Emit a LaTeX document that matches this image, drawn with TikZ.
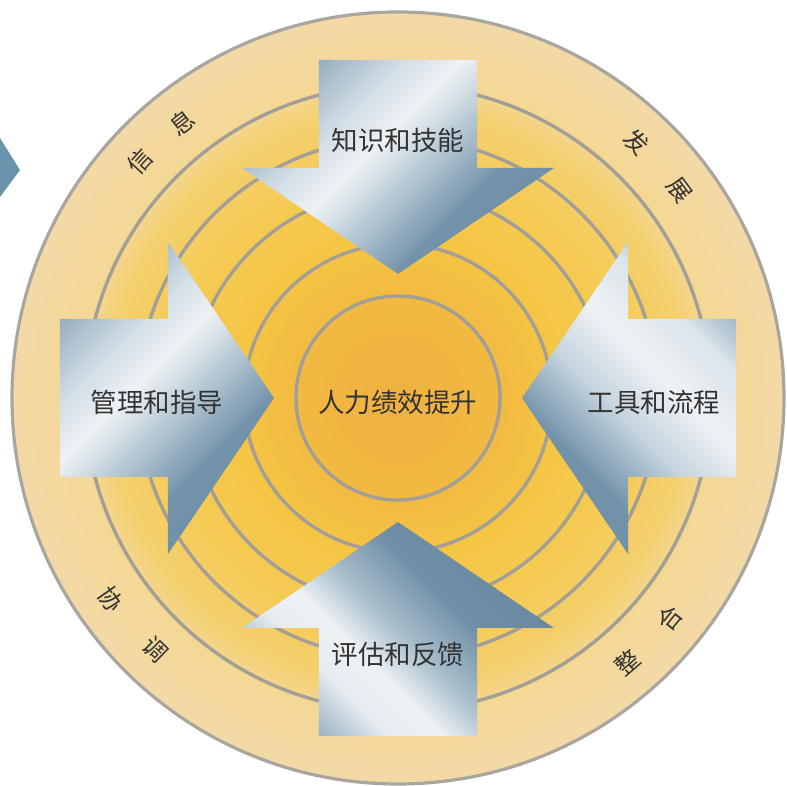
\documentclass[tikz,border=0pt]{standalone}
\usepackage{fontspec}
\setmainfont{Noto Sans CJK SC}
\definecolor{txt}{HTML}{333333}
\definecolor{ringc}{HTML}{A39F97}
\definecolor{rimc}{HTML}{A9A59F}
\definecolor{chev}{HTML}{6A92AB}
% custom colours for stops
\definecolor{b0}{HTML}{EFB040}
\definecolor{b1}{HTML}{F2BA42}
\definecolor{b2}{HTML}{F5C544}
\definecolor{b3}{HTML}{F5CB55}
\definecolor{b4}{HTML}{F4D070}
\definecolor{b5}{HTML}{F4D896}
\definecolor{b6}{HTML}{F3D9A6}
\pgfdeclareradialshading{bgrad}{\pgfpoint{0bp}{0bp}}{%
 color(0bp)=(b0); color(6.6bp)=(b1); color(10.4bp)=(b2); color(14.9bp)=(b3);
 color(18.8bp)=(b4); color(20.7bp)=(b5); color(25bp)=(b6); color(50bp)=(b6)}
% metal colours
\definecolor{mA}{HTML}{7896AC}
\definecolor{mB}{HTML}{8DA7BA}
\definecolor{mC}{HTML}{D0DCE4}
\definecolor{mW}{HTML}{EEF2F5}
\definecolor{mD}{HTML}{B5C7D3}
\definecolor{mE}{HTML}{7393AA}
\definecolor{mF}{HTML}{6A8AA1}
\definecolor{mG}{HTML}{E6ECF0}
\definecolor{mH}{HTML}{A8BDCB}
\definecolor{mI}{HTML}{6F8FA7}
\definecolor{mJ}{HTML}{7E9AAF}
\definecolor{mK}{HTML}{C5D4DE}
\definecolor{mL}{HTML}{DCE5EB}
\definecolor{mM}{HTML}{94ADBE}
% pos = 14.6 + 70.8 t
\pgfdeclarehorizontalshading{metalTL}{100bp}{%
 color(0bp)=(mA); color(14.6bp)=(mA); color(23.1bp)=(mB); color(35.8bp)=(mC);
 color(44.3bp)=(mW); color(53.5bp)=(mD); color(64.2bp)=(mE); color(85.4bp)=(mF); color(100bp)=(mF)}
\pgfdeclarehorizontalshading{metalB}{100bp}{%
 color(0bp)=(mJ); color(14.6bp)=(mJ); color(23.1bp)=(mB); color(34.4bp)=(mG);
 color(41.5bp)=(mW); color(50bp)=(mH); color(60.6bp)=(mI); color(71.2bp)=(mF); color(85.4bp)=(mJ); color(100bp)=(mJ)}
\pgfdeclarehorizontalshading{metalR}{100bp}{%
 color(0bp)=(mF); color(14.6bp)=(mF); color(34.4bp)=(mE); color(46.5bp)=(mK);
 color(57.1bp)=(mW); color(67.7bp)=(mL); color(76.9bp)=(mM); color(85.4bp)=(mJ); color(100bp)=(mJ)}
\tikzset{
 ring/.style={draw=ringc, line width=3.4pt},
 arrowTL/.style={shading=metalTL, shading angle=-45},
 arrowB/.style={shading=metalB, shading angle=45},
 arrowR/.style={shading=metalR, shading angle=45},
 lbl/.style={text=txt, font=\fontsize{26.5}{28}\selectfont, inner sep=0pt},
 ringlbl/.style={text=txt, font=\fontsize{24}{26}\selectfont, inner sep=0pt},
}
\begin{document}
\begin{tikzpicture}[x=1pt,y=1pt]
\useasboundingbox (-398,-388) rectangle (389,398);
% far-left chevron tip
\fill[chev] (-398,260) -- (-378,228) -- (-398,201) -- cycle;
% background disc
\shade[shading=bgrad] (0,0) circle (386);
\draw[draw=rimc, line width=3.2pt] (0,0) circle (386);
% rings
\foreach \r in {102,154,208,260,313} \draw[ring] (0,0) circle (\r);
% arrows
\shade[arrowTL] (-79,338) -- (79,338) -- (79,230) -- (156,230) -- (0,124) -- (-156,230) -- (-79,230) -- cycle;
\shade[arrowTL] (-338,79) -- (-338,-79) -- (-230,-79) -- (-230,-156) -- (-124,0) -- (-230,156) -- (-230,79) -- cycle;
\shade[arrowR] (338,79) -- (338,-79) -- (230,-79) -- (230,-156) -- (124,0) -- (230,156) -- (230,79) -- cycle;
\shade[arrowB] (-79,-338) -- (79,-338) -- (79,-230) -- (156,-230) -- (0,-124) -- (-156,-230) -- (-79,-230) -- cycle;
% labels
\node[lbl] (center) at (0,-4) {人力绩效提升};
\node[lbl] (top) at (0,258) {知识和技能};
\node[lbl] (left) at (-241,-4) {管理和指导};
\node[lbl] (right) at (256,-4) {工具和流程};
\node[lbl] (bottom) at (0,-256) {评估和反馈};
% ring labels
\node[ringlbl, rotate=47.5] (xin) at (137.5:350) {信};
\node[ringlbl, rotate=38] (xi) at (128:350) {息};
\node[ringlbl, rotate=-43] (fa) at (47:350) {发};
\node[ringlbl, rotate=-53.5] (zhan) at (36.5:350) {展};
\node[ringlbl, rotate=-55] (xie) at (215:350) {协};
\node[ringlbl, rotate=-44] (tiao) at (226:350) {调};
\node[ringlbl, rotate=41] (zheng) at (311:350) {整};
\node[ringlbl, rotate=51] (he) at (321:350) {合};
\end{tikzpicture}
\end{document}
